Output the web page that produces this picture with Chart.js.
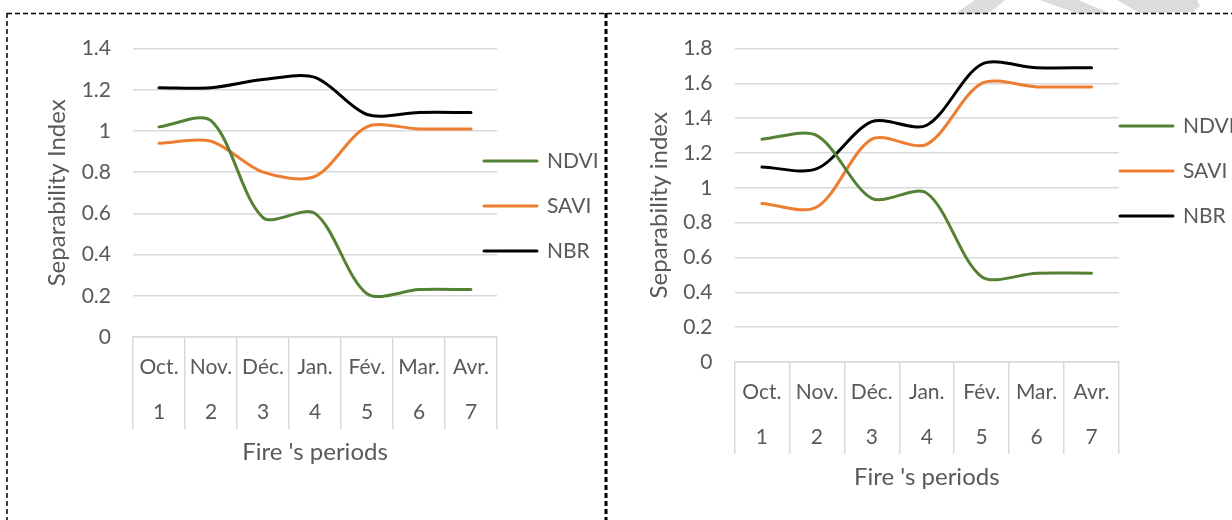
<!DOCTYPE html>
<html>
<head>
<meta charset="utf-8">
<script src="https://cdn.jsdelivr.net/npm/chart.js@4.4.1/dist/chart.umd.min.js"></script>
<style>
  html, body { margin: 0; padding: 0; background: #fff; }
  body { width: 1232px; height: 520px; position: relative; overflow: hidden; }
  .box { position: absolute; top: 14px; height: 506px; }
  #marks { position: absolute; left: 0; top: 0; pointer-events: none; }
</style>
</head>
<body>
<svg id="marks" width="1232" height="520">
  <polygon points="955,14 988,14 1005,0 975,0" fill="#dcdcdc"/>
  <polygon points="1040,0 1078,0 1112,14 1078,14" fill="#dcdcdc"/>
  <polygon points="1117,0 1197,0 1200,6 1193,12 1160,13 1140,13" fill="#dcdcdc"/>
  <line x1="7" y1="13.5" x2="1232" y2="13.5" stroke="#000" stroke-width="1.5" stroke-dasharray="5 3"/>
  <line x1="7" y1="13" x2="7" y2="520" stroke="#000" stroke-width="1.5" stroke-dasharray="5 3"/>
  <line x1="606" y1="13" x2="606" y2="520" stroke="#000" stroke-width="3" stroke-dasharray="5 3"/>
</svg>
<div class="box" style="left:8px;width:598px"><canvas id="left"></canvas></div>
<div class="box" style="left:612px;width:620px"><canvas id="right"></canvas></div>
<script>
const months = ['Oct.', 'Nov.', 'Déc.', 'Jan.', 'Fév.', 'Mar.', 'Avr.'];
const periods = ['1', '2', '3', '4', '5', '6', '7'];

// left panel
const ndviLeft = [1.02, 1.05, 0.58, 0.60, 0.21, 0.23, 0.23];
const saviLeft = [0.94, 0.95, 0.80, 0.78, 1.02, 1.01, 1.01];
const nbrLeft = [1.21, 1.21, 1.25, 1.26, 1.08, 1.09, 1.09];
const ticksLeft = [0, 0.2, 0.4, 0.6, 0.8, 1, 1.2, 1.4];

// right panel
const ndviRight = [1.28, 1.30, 0.94, 0.97, 0.49, 0.51, 0.51];
const saviRight = [0.91, 0.89, 1.28, 1.25, 1.60, 1.58, 1.58];
const nbrRight = [1.12, 1.11, 1.38, 1.36, 1.71, 1.69, 1.69];
const ticksRight = [0, 0.2, 0.4, 0.6, 0.8, 1, 1.2, 1.4, 1.6, 1.8];

const grey = '#595959';
const gridCol = '#d9d9d9';
const fam = 'Lato';

// legend drawn beside the plot, the way Excel left it
const sideLegend = {
  id: 'sideLegend',
  afterDraw(chart, args, opts) {
    const {ctx, chartArea} = chart;
    ctx.save();
    chart.data.datasets.forEach((ds, i) => {
      const x = chartArea.right + opts.dx;
      const y = opts.top + i * opts.gap;
      ctx.strokeStyle = ds.borderColor;
      ctx.lineWidth = ds.borderWidth;
      ctx.lineCap = 'round';
      ctx.beginPath();
      ctx.moveTo(x, y);
      ctx.lineTo(x + 53, y);
      ctx.stroke();
      ctx.fillStyle = grey;
      ctx.font = '21px ' + fam;
      ctx.textBaseline = 'middle';
      ctx.fillText(ds.label, x + 63, y);
    });
    ctx.restore();
  }
};

function makeChart(id, ndvi, savi, nbr, yTicks, yTitle, cfg) {
  const line = (label, data, color) => ({
    label, data, borderColor: color, backgroundColor: color,
    borderWidth: 3, pointRadius: 0, tension: 0.3, borderCapStyle: 'round'
  });
  return new Chart(document.getElementById(id), {
    type: 'line',
    data: {
      labels: months.map((m, i) => [m, periods[i]]),
      datasets: [
        line('NDVI', ndvi, '#548235'),
        line('SAVI', savi, '#ed7d31'),
        line('NBR', nbr, '#000000')
      ]
    },
    options: {
      responsive: true,
      maintainAspectRatio: false,
      animation: false,
      layout: { padding: { top: 28, left: 0, right: cfg.padRight, bottom: cfg.padBottom } },
      plugins: {
        legend: { display: false },
        tooltip: { enabled: false },
        sideLegend: cfg.legend
      },
      scales: {
        x: {
          offset: true,
          grid: { offset: true, drawOnChartArea: false, tickLength: 92, color: gridCol, lineWidth: 1.5 },
          border: { color: gridCol, width: 1.5 },
          ticks: { color: grey, font: { family: fam, size: 21, lineHeight: 2.14 }, padding: -84, maxRotation: 0, autoSkip: false },
          title: { display: true, text: "Fire 's periods", color: grey, font: { family: fam, size: 24 }, padding: 0 },
          afterFit: s => { s.height = 130; }
        },
        y: {
          min: 0,
          max: yTicks[yTicks.length - 1],
          afterBuildTicks: s => { s.ticks = yTicks.map(v => ({ value: v })); },
          grid: { color: gridCol, lineWidth: 1.5, drawTicks: false },
          border: { display: false },
          ticks: { color: grey, font: { family: fam, size: 21 }, padding: 22, callback: v => String(v) },
          title: { display: true, text: yTitle, color: grey, font: { family: fam, size: 24 }, padding: { top: cfg.titlePad, bottom: 0 } },
          afterFit: s => { s.width = cfg.yWidth; }
        }
      }
    },
    plugins: [sideLegend]
  });
}

makeChart('left', ndviLeft, saviLeft, nbrLeft, ticksLeft, 'Separability Index', {
  padRight: 109, padBottom: 53, yWidth: 125, titlePad: 34.6,
  legend: { dx: -13, top: 147, gap: 45 }
});
makeChart('right', ndviRight, saviRight, nbrRight, ticksRight, 'Separability index', {
  padRight: 113, padBottom: 28, yWidth: 122.5, titlePad: 32.6,
  legend: { dx: 1, top: 112, gap: 45 }
});
</script>
</body>
</html>
